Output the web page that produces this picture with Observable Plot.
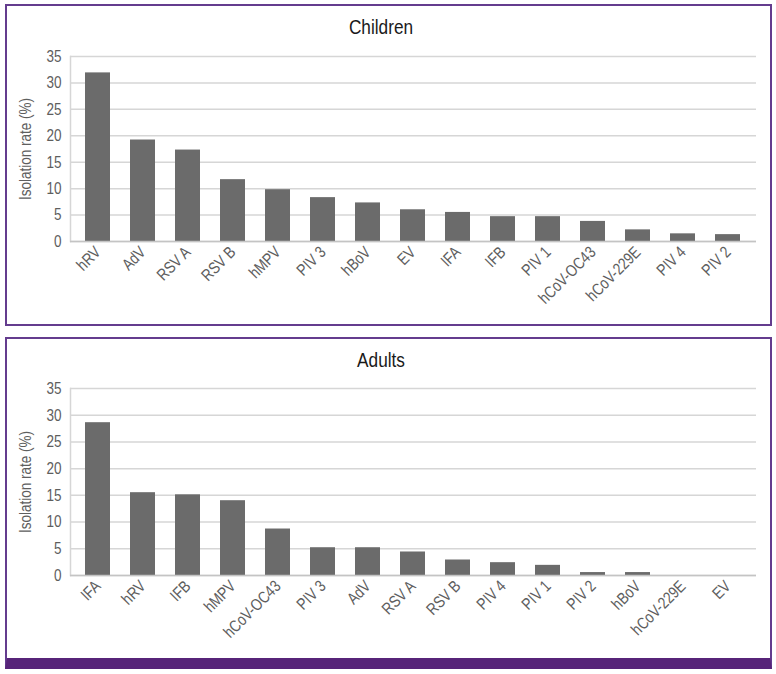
<!DOCTYPE html>
<html><head><meta charset="utf-8">
<script src="https://cdn.jsdelivr.net/npm/d3@7"></script>
<script src="https://cdn.jsdelivr.net/npm/@observablehq/plot@0.6"></script>
<style>
body{margin:0;background:#fff;}
#root{position:relative;width:776px;height:674px;overflow:hidden;font-family:"Liberation Sans",Arial,sans-serif;}
.panel{position:absolute;box-sizing:border-box;border:2px solid #643c8e;background:#fff;}
.title{position:absolute;left:0;width:762px;text-align:center;font-size:21px;line-height:21px;color:#1a1a1a;transform:scaleX(0.82);transform-origin:381px 50%;}
.chart{position:absolute;left:0;}
</style></head><body><div id="root"></div>
<script>
const childCategories = ["hRV","AdV","RSV A","RSV B","hMPV","PIV 3","hBoV","EV","IFA","IFB","PIV 1","hCoV-OC43","hCoV-229E","PIV 4","PIV 2"];
const childValues = [31.9,19.2,17.3,11.7,9.8,8.3,7.3,6.0,5.5,4.7,4.7,3.8,2.2,1.45,1.3];
const adultCategories = ["IFA","hRV","IFB","hMPV","hCoV-OC43","PIV 3","AdV","RSV A","RSV B","PIV 4","PIV 1","PIV 2","hBoV","hCoV-229E","EV"];
const adultValues = [28.6,15.5,15.1,14.0,8.7,5.2,5.2,4.4,2.9,2.4,1.9,0.55,0.55,0,0];
const yTicks = [0,5,10,15,20,25,30,35];
const titles = ["Children","Adults"];
const FONT = '"Liberation Sans",Arial,sans-serif';

const root = document.getElementById("root");
function box(cls, css) {
  const d = document.createElement("div");
  d.className = cls;
  Object.assign(d.style, css);
  root.appendChild(d);
  return d;
}
box("panel", {left:"5px", top:"4px", width:"767px", height:"322px"});
box("panel", {left:"5px", top:"337px", width:"767px", height:"332px", borderBottom:"11px solid #572479"});

function num(a) {
  const v = Number(a);
  return a != null && a !== "" && isFinite(v) ? v : 0;
}
// narrow the glyphs (condensed look) while keeping each text's anchor point
function condense(svg, k) {
  svg.querySelectorAll("text").forEach(t => {
    const x = num(t.getAttribute("x")), y = num(t.getAttribute("y"));
    const tr = t.getAttribute("transform") || "";
    t.setAttribute("transform", `${tr} translate(${x},${y}) scale(${k},1) translate(${-x},${-y})`);
  });
}

function chart(cats, vals, title, titleTop, top, height) {
  const t = box("title", {top: titleTop + "px"});
  t.textContent = title;
  const data = cats.map((c, i) => ({c, v: vals[i]}));
  const p = Plot.plot({
    width: 776, height,
    marginLeft: 70, marginRight: 20, marginTop: 16, marginBottom: 80,
    style: {fontFamily: FONT, fontSize: "16.5px", color: "#5e5e5e", background: "transparent", overflow: "visible"},
    x: {domain: cats, paddingInner: 0.44, paddingOuter: 0.22},
    y: {domain: [0, 35]},
    marks: [
      Plot.gridY(yTicks, {stroke: "#d6d6d6", strokeOpacity: 1, strokeWidth: 1.5}),
      Plot.frame({anchor: "left", stroke: "#d6d6d6", strokeWidth: 1.5}),
      Plot.barY(data, {x: "c", y: "v", fill: "#6b6b6b"}),
      Plot.ruleY([0], {stroke: "#c4c4c4", strokeWidth: 1.5}),
      Plot.axisY({ticks: yTicks, tickSize: 0, tickPadding: 9, label: "Isolation rate (%)", labelAnchor: "center", labelArrow: "none", labelOffset: 51, fill: "#5e5e5e"}),
      Plot.axisX({tickSize: 0, tickPadding: 8, tickRotate: -45, label: null, fill: "#5e5e5e"})
    ]
  });
  condense(p, 0.82);
  const w = document.createElement("div");
  w.className = "chart";
  w.style.top = top + "px";
  w.appendChild(p);
  root.appendChild(w);
}
chart(childCategories, childValues, titles[0], 16, 40, 281);
chart(adultCategories, adultValues, titles[1], 349, 372, 283);
</script></body></html>
